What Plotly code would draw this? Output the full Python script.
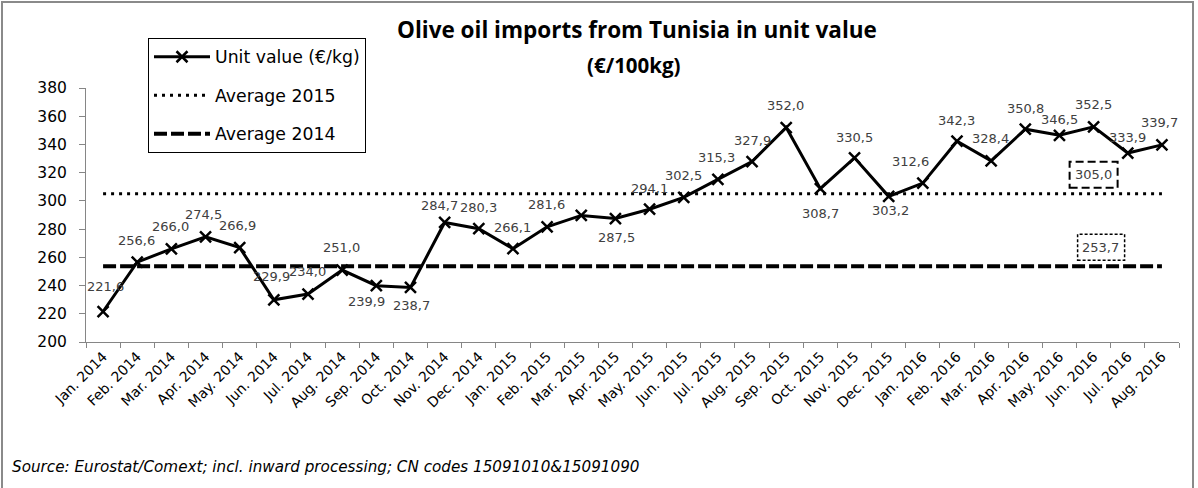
import plotly.graph_objects as go

# ---------------- data ----------------
months = ["Jan.", "Feb.", "Mar.", "Apr.", "May.", "Jun.", "Jul.", "Aug.", "Sep.", "Oct.", "Nov.", "Dec."]
categories = [f"{m} {y}" for y in (2014, 2015) for m in months] + \
             [f"{m} 2016" for m in months[:8]]

unit_value = [221.6, 256.6, 266.0, 274.5, 266.9, 229.9, 234.0, 251.0, 239.9, 238.7, 284.7, 280.3,
              266.1, 281.6, 289.7, 287.5, 294.1, 302.5, 315.3, 327.9, 352.0, 308.7, 330.5, 303.2,
              312.6, 342.3, 328.4, 350.8, 346.5, 352.5, 333.9, 339.7]
# data labels shown on the chart (None = no label)
value_labels = [f"{v:.1f}".replace(".", ",") for v in unit_value]
value_labels[14] = None

avg_2015 = 305.0
avg_2014 = 253.7
avg_label_category = "Jun. 2016"

# label offsets (style: pixels relative to each point)
LABEL_DX = [2, -1, -1, -2, -2, -2, -1, -1, -10, 1, -5, 0,
            0, -1, 0, 1, 0, 0, -1, 0, -1, 0, 0, 2,
            -12, 0, -1, 0, 0, 0, 0, -2]
LABEL_DY = [25, 22, 22, 22, 22, 23, 23, 23, -16, -18, 17, 21,
            21, 22, 0, -19, 21, 22, 22, 21, 22, -25, 20, -14,
            22, 21, 22, 21, 16, 22, 16, 22]

FONT = "DejaVu Sans"
TITLE_FONT = "Open Sans"
LABEL_COLOR = "#404040"

W, H = 1198, 488
L, R, T, B = 86, 19, 88, 146
pw, ph = W - L - R, H - T - B


def px_to_paper_x(px):
    return (px - L) / pw


def px_to_paper_y(py):
    return (H - B - py) / ph


fig = go.Figure()

fig.add_trace(go.Scatter(
    x=categories, y=[avg_2014] * len(categories), mode="lines",
    name="Average 2014", legendgroup="c", legendrank=3,
    line=dict(color="black", width=4, dash="13px,4px"),
    hoverinfo="skip"))
fig.add_trace(go.Scatter(
    x=categories, y=[avg_2015] * len(categories), mode="lines",
    name="Average 2015", legendgroup="b", legendrank=2,
    line=dict(color="black", width=3, dash="3px,5px"),
    hoverinfo="skip"))
fig.add_trace(go.Scatter(
    x=categories, y=unit_value, mode="lines+markers",
    name="Unit value (€/kg)", legendgroup="a", legendrank=1,
    line=dict(color="black", width=3),
    marker=dict(symbol="x-thin", size=11, color="black",
                line=dict(color="black", width=2.5))))

annotations = []
for cat, v, lab, dx, dy in zip(categories, unit_value, value_labels, LABEL_DX, LABEL_DY):
    if lab is None:
        continue
    annotations.append(dict(x=cat, y=v, xref="x", yref="y", text=lab, showarrow=False,
                            xshift=dx, yshift=dy,
                            font=dict(family=FONT, size=13, color=LABEL_COLOR)))

# average labels with dashed boxes
annotations.append(dict(x=avg_label_category, y=avg_2015, xref="x", yref="y",
                        text=f"{avg_2015:.1f}".replace(".", ","), showarrow=False,
                        yshift=19, font=dict(family=FONT, size=13, color=LABEL_COLOR)))
annotations.append(dict(x=avg_label_category, y=avg_2014, xref="x", yref="y",
                        text=f"{avg_2014:.1f}".replace(".", ","), showarrow=False,
                        xshift=7, yshift=19, font=dict(family=FONT, size=13, color=LABEL_COLOR)))

# titles and source
annotations.append(dict(x=px_to_paper_x(637), y=px_to_paper_y(30), xref="paper", yref="paper",
                        xanchor="center", yanchor="middle",
                        text="<b>Olive oil imports from Tunisia in unit value</b>",
                        showarrow=False, font=dict(family=TITLE_FONT, size=22.5, color="black")))
annotations.append(dict(x=px_to_paper_x(634), y=px_to_paper_y(65), xref="paper", yref="paper",
                        xanchor="center", yanchor="middle",
                        text="<b>(€/100kg)</b>", showarrow=False,
                        font=dict(family=TITLE_FONT, size=20.5, color="black")))
annotations.append(dict(x=px_to_paper_x(10), y=px_to_paper_y(467), xref="paper", yref="paper",
                        xanchor="left", yanchor="middle", showarrow=False,
                        text="<i>Source: Eurostat/Comext; incl. inward processing; CN codes 15091010&15091090</i>",
                        font=dict(family=FONT, size=15.2, color="black")))

idx = categories.index(avg_label_category)
shapes = [
    dict(type="rect", xref="x", yref="y", xsizemode="pixel", ysizemode="pixel",
         xanchor=idx, yanchor=avg_2015, x0=-24, x1=24, y0=6, y1=32,
         line=dict(color="black", width=2, dash="8px,4px")),
    dict(type="rect", xref="x", yref="y", xsizemode="pixel", ysizemode="pixel",
         xanchor=idx, yanchor=avg_2014, x0=-16, x1=31, y0=6, y1=32,
         line=dict(color="black", width=1.5, dash="3px,2px")),
    # outer frame
    dict(type="rect", xref="paper", yref="paper", layer="below",
         x0=px_to_paper_x(2), x1=px_to_paper_x(1193),
         y0=px_to_paper_y(500), y1=px_to_paper_y(2),
         line=dict(color="#8a8a8a", width=2)),
]

fig.update_layout(
    width=W, height=H,
    margin=dict(l=L, r=R, t=T, b=B, pad=0),
    paper_bgcolor="white", plot_bgcolor="white",
    font=dict(family=FONT, color="black"),
    showlegend=True,
    legend=dict(x=px_to_paper_x(148), y=px_to_paper_y(38), xanchor="left", yanchor="top",
                bgcolor="white", bordercolor="black", borderwidth=1,
                font=dict(family=FONT, size=17.3, color="black"),
                traceorder="grouped", tracegroupgap=13, itemwidth=56),
    annotations=annotations,
    shapes=shapes,
    xaxis=dict(type="category", categoryorder="array", categoryarray=categories,
               showgrid=False, zeroline=False, showline=True, linecolor="#868686", linewidth=1,
               ticks="outside", tickson="boundaries", ticklen=5, tickcolor="#868686",
               tickangle=-45, tickfont=dict(family=FONT, size=14, color="black"),
               range=[-0.5, len(categories) - 0.5], fixedrange=True),
    yaxis=dict(range=[200, 380], dtick=20, showgrid=False, zeroline=False,
               showline=True, linecolor="#868686", linewidth=1,
               ticks="outside", ticklen=6, tickcolor="#868686", ticklabelstandoff=9,
               tickfont=dict(family=FONT, size=15.5, color="black"), fixedrange=True),
)

fig.write_html(
    "out.html",
    config={"displayModeBar": False},
    post_script="document.body.style.margin='0';document.body.style.overflow='hidden';",
)
